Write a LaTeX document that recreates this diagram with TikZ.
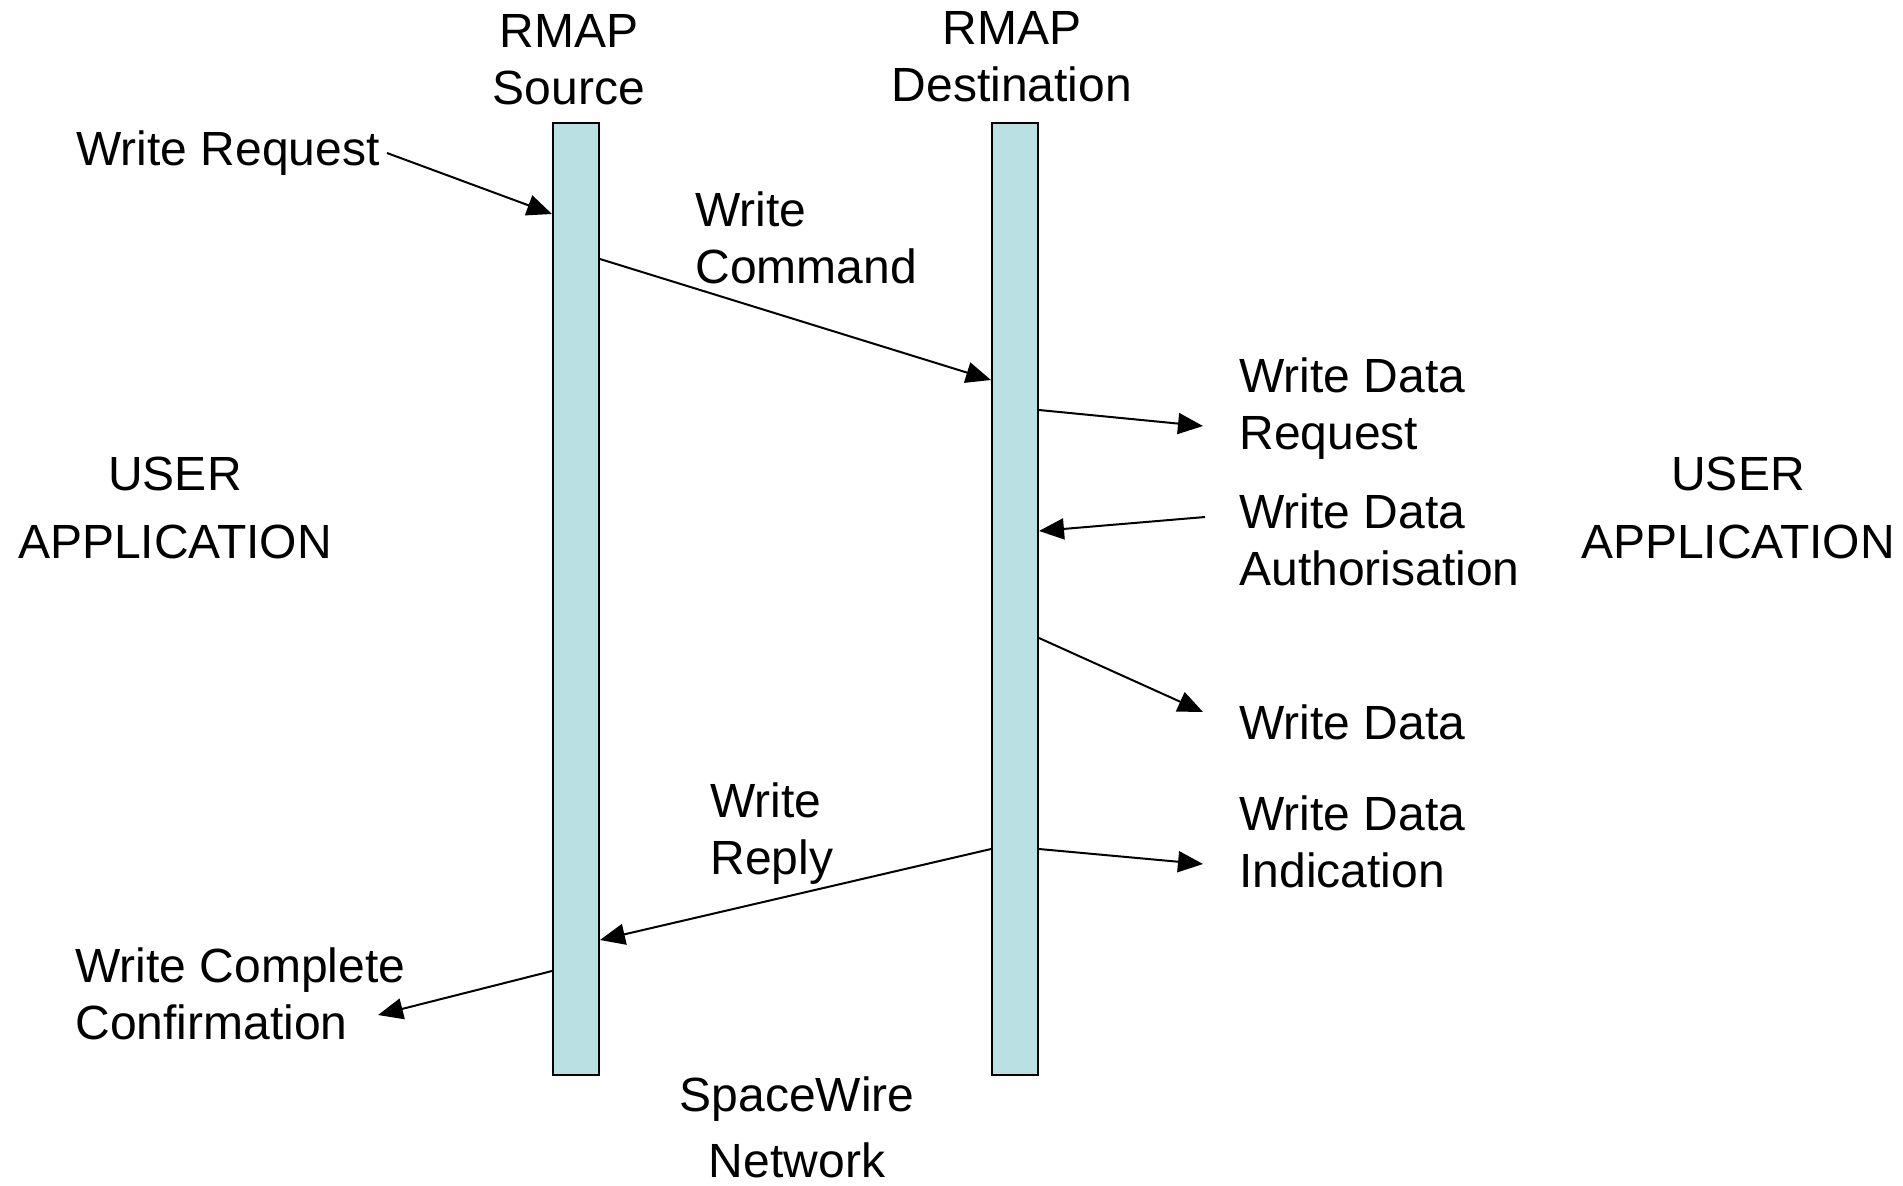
\documentclass[tikz,border=0pt]{standalone}
\usepackage{fontspec}
\setmainfont{Liberation Sans}
\usetikzlibrary{arrows.meta}
\definecolor{barfill}{RGB}{187,224,227}
\begin{document}
\begin{tikzpicture}[x=0.5pt,y=-0.5pt,
  lifeline/.style={draw=black, line width=1pt, fill=barfill,
    minimum width=23pt, minimum height=476pt, inner sep=0pt},
  msg/.style={draw=black, line width=1pt,
    -{Triangle[length=12.5pt,width=10.5pt]}},
  lbl/.style={inner sep=0pt, font=\fontsize{24}{28.5}\selectfont},
  wide/.style={lbl, font=\fontsize{24}{34}\selectfont},
  netw/.style={lbl, font=\fontsize{24}{33}\selectfont},
]
\useasboundingbox (0,0) rectangle (1903,1185);

% lifelines
\node[lifeline] (src) at (576,599) {};
\node[lifeline] (dst) at (1015,599) {};

% lifeline titles (anchored on the baseline of their last line)
\node[lbl, anchor=base, align=center] (srct) at (569,104) {RMAP\\Source};
\node[lbl, anchor=base, align=center] (dstt) at (1012,101) {RMAP\\Destination};

% side titles
\node[wide, anchor=base, align=center] (ual) at (175,558) {USER\\APPLICATION};
\node[wide, anchor=base, align=center] (uar) at (1738,558) {USER\\APPLICATION};
\node[netw, anchor=base, align=center] (net) at (797,1177) {SpaceWire\\Network};

% message labels
\node[lbl, anchor=base west, align=left] (wreq) at (76,165) {Write Request};
\node[lbl, anchor=base west, align=left] (wcmd) at (695,283) {Write\\Command};
\node[lbl, anchor=base west, align=left] (wdrq) at (1239,449) {Write Data\\Request};
\node[lbl, anchor=base west, align=left] (wdau) at (1239,585) {Write Data\\Authorisation};
\node[lbl, anchor=base west, align=left] (wdat) at (1239,739) {Write Data};
\node[lbl, anchor=base west, align=left] (wrep) at (710,874) {Write\\Reply};
\node[lbl, anchor=base west, align=left] (wdin) at (1239,887) {Write Data\\Indication};
\node[lbl, anchor=base west, align=left] (wcc) at (75,1039) {Write Complete\\Confirmation};

% free ends of the user-side messages
\coordinate (wreq-from) at (387,153);
\coordinate (wdrq-to) at (1203,426);
\coordinate (wdau-from) at (1205,517);
\coordinate (wdat-to) at (1203,712);
\coordinate (wdin-to) at (1203,864);
\coordinate (wcc-to) at (378,1015);

% messages
\draw[msg] (wreq-from) -- (src.west |- 0,214);
\draw[msg] (src.east |- 0,259) -- (dst.west |- 0,380);
\draw[msg] (dst.east |- 0,410) -- (wdrq-to);
\draw[msg] (wdau-from) -- (dst.east |- 0,531);
\draw[msg] (dst.east |- 0,638) -- (wdat-to);
\draw[msg] (dst.east |- 0,849) -- (wdin-to);
\draw[msg] (dst.west |- 0,849) -- (src.east |- 0,940);
\draw[msg] (src.west |- 0,971) -- (wcc-to);
\end{tikzpicture}
\end{document}
